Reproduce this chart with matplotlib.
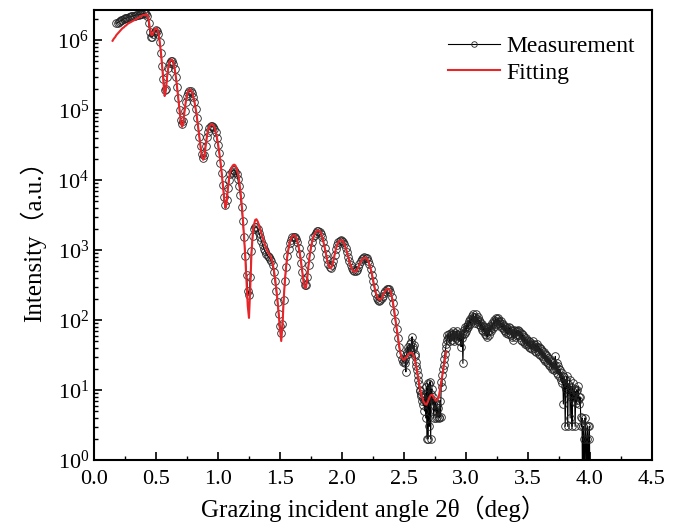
import numpy as np
import matplotlib.pyplot as plt

plt.rcParams['font.family'] = ['Liberation Serif', 'Noto Sans CJK SC']
plt.rcParams['mathtext.fontset'] = 'stix'

# measurement, log10 of intensity
# head: 2theta 0.18 .. 2.49, step 0.01
head_x0, head_dx = 0.18, 0.01
head_log = [
    6.24, 6.25, 6.26, 6.27, 6.28, 6.29, 6.30, 6.31, 6.31, 6.32,
    6.33, 6.33, 6.34, 6.34, 6.35, 6.35, 6.36, 6.36, 6.36, 6.37,
    6.37, 6.37, 6.38, 6.38, 6.37, 6.35, 6.25, 6.12, 6.05, 6.04,
    6.08, 6.12, 6.14, 6.13, 6.08, 5.97, 5.82, 5.63, 5.44, 5.28,
    5.30, 5.47, 5.60, 5.67, 5.70, 5.70, 5.66, 5.58, 5.47, 5.33,
    5.17, 5.00, 4.86, 4.80, 4.84, 4.98, 5.11, 5.20, 5.25, 5.27,
    5.27, 5.24, 5.19, 5.11, 5.01, 4.89, 4.76, 4.62, 4.48, 4.37,
    4.32, 4.36, 4.49, 4.61, 4.69, 4.74, 4.77, 4.77, 4.76, 4.73,
    4.68, 4.60, 4.50, 4.39, 4.25, 4.10, 3.93, 3.76, 3.65, 3.72,
    3.88, 4.00, 4.08, 4.12, 4.14, 4.14, 4.12, 4.08, 4.01, 3.92,
    3.79, 3.62, 3.42, 3.18, 2.92, 2.65, 2.42, 2.36, 2.62, 2.98,
    3.20, 3.30, 3.33, 3.33, 3.30, 3.25, 3.19, 3.13, 3.07, 3.02,
    2.98, 2.95, 2.92, 2.90, 2.87, 2.84, 2.78, 2.68, 2.56, 2.42,
    2.26, 2.08, 1.92, 1.82, 1.95, 2.28, 2.56, 2.76, 2.91, 3.02,
    3.10, 3.15, 3.18, 3.19, 3.19, 3.16, 3.11, 3.03, 2.94, 2.82,
    2.69, 2.57, 2.50, 2.50, 2.62, 2.78, 2.92, 3.03, 3.12, 3.18,
    3.22, 3.25, 3.27, 3.27, 3.26, 3.23, 3.18, 3.11, 3.03, 2.95,
    2.87, 2.80, 2.76, 2.75, 2.78, 2.85, 2.93, 3.01, 3.07, 3.11,
    3.13, 3.14, 3.13, 3.11, 3.08, 3.03, 2.97, 2.90, 2.84, 2.79,
    2.74, 2.71, 2.70, 2.70, 2.72, 2.76, 2.80, 2.84, 2.87, 2.89,
    2.90, 2.89, 2.88, 2.85, 2.80, 2.73, 2.65, 2.56, 2.47, 2.38,
    2.32, 2.28, 2.27, 2.28, 2.31, 2.35, 2.39, 2.42, 2.44, 2.45,
    2.44, 2.40, 2.33, 2.24, 2.12, 1.99, 1.87, 1.75, 1.62, 1.52,
    1.45, 1.40,
]
# tail: 2theta 2.500 .. 4.000, step 0.005 (noisy part)
tail_x0, tail_dx = 2.50, 0.005
tail_log = [
    1.42, 1.45, 1.38, 1.26, 1.50, 1.55, 1.62, 1.52, 1.58, 1.66,
    1.60, 1.56, 1.68, 1.76, 1.62, 1.58, 1.64, 1.52, 1.48, 1.40,
    1.34, 1.28, 1.22, 1.14, 1.08, 0.98, 1.00, 0.92, 0.95, 0.85,
    0.88, 0.78, 0.86, 0.70, 0.95, 0.60, 1.04, 0.30, 1.10, 0.30,
    1.08, 0.48, 1.12, 0.30, 0.95, 1.02, 0.80, 0.90, 0.60, 0.85,
    0.70, 0.82, 0.60, 0.78, 0.62, 0.75, 0.62, 0.60, 0.85, 0.62,
    1.12, 1.05, 1.22, 1.30, 1.36, 1.45, 1.52, 1.60, 1.66, 1.72,
    1.78, 1.74, 1.80, 1.76, 1.70, 1.82, 1.78, 1.72, 1.80, 1.85,
    1.76, 1.70, 1.82, 1.78, 1.74, 1.84, 1.80, 1.72, 1.78, 1.70,
    1.82, 1.76, 1.62, 1.80, 1.74, 1.38, 1.80, 1.86, 1.82, 1.90,
    1.84, 1.92, 1.88, 1.95, 1.90, 1.98, 2.02, 1.94, 2.00, 2.06,
    1.98, 2.04, 2.09, 2.00, 2.05, 1.96, 2.08, 2.02, 1.98, 2.04,
    1.95, 2.00, 1.93, 1.97, 1.90, 1.94, 1.86, 1.92, 1.84, 1.90,
    1.80, 1.86, 1.78, 1.88, 1.76, 1.84, 1.90, 1.78, 1.86, 1.92,
    1.84, 1.90, 1.96, 1.88, 1.94, 2.00, 1.92, 1.98, 2.03, 1.95,
    2.01, 1.96, 2.03, 1.97, 1.99, 1.93, 1.98, 1.90, 1.95, 1.88,
    1.94, 1.86, 1.92, 1.84, 1.90, 1.82, 1.88, 1.80, 1.86, 1.90,
    1.82, 1.88, 1.79, 1.86, 1.76, 1.84, 1.72, 1.82, 1.86, 1.76,
    1.84, 1.78, 1.85, 1.80, 1.86, 1.78, 1.84, 1.76, 1.82, 1.72,
    1.80, 1.70, 1.78, 1.68, 1.76, 1.66, 1.74, 1.70, 1.64, 1.72,
    1.66, 1.70, 1.62, 1.68, 1.60, 1.66, 1.58, 1.64, 1.70, 1.60,
    1.66, 1.56, 1.64, 1.54, 1.62, 1.66, 1.56, 1.62, 1.52, 1.60,
    1.50, 1.58, 1.48, 1.56, 1.46, 1.54, 1.44, 1.52, 1.42, 1.50,
    1.40, 1.48, 1.38, 1.46, 1.36, 1.44, 1.34, 1.42, 1.30, 1.40,
    1.32, 1.38, 1.28, 1.36, 1.48, 1.30, 1.38, 1.24, 1.34, 1.22,
    1.30, 1.18, 1.28, 1.14, 1.24, 1.10, 1.20, 0.80, 1.18, 1.06,
    0.48, 1.15, 1.02, 1.20, 0.48, 1.08, 0.95, 1.14, 0.60, 1.05,
    0.90, 0.48, 1.10, 0.95, 0.85, 1.02, 0.48, 0.98, 0.82, 1.00,
    0.86, 1.06, 0.90, 0.80, 0.90, 0.62, 0.48, 0.60, -0.5, 0.48,
    0.30, -0.5, 0.60, 0.48, -0.5, 0.30, 0.48, -0.5, 0.30, 0.48,
    -0.5,
]

# fitting curve, 2theta 0.15 .. 2.84, step 0.01, log10 of intensity
fit_x0, fit_dx = 0.15, 0.01
fit_log = [
    5.99, 6.02, 6.04, 6.07, 6.09, 6.11, 6.13, 6.15, 6.17, 6.18,
    6.20, 6.21, 6.23, 6.24, 6.25, 6.26, 6.27, 6.28, 6.29, 6.30,
    6.31, 6.32, 6.33, 6.34, 6.35, 6.36, 6.36, 6.37, 6.36, 6.30,
    6.18, 6.08, 6.07, 6.11, 6.15, 6.17, 6.16, 6.10, 5.98, 5.82,
    5.62, 5.40, 5.20, 5.28, 5.48, 5.62, 5.69, 5.72, 5.72, 5.68,
    5.60, 5.48, 5.33, 5.16, 4.98, 4.83, 4.76, 4.80, 4.98, 5.12,
    5.22, 5.27, 5.29, 5.29, 5.26, 5.20, 5.12, 5.02, 4.90, 4.76,
    4.61, 4.46, 4.34, 4.29, 4.32, 4.48, 4.62, 4.71, 4.76, 4.79,
    4.80, 4.79, 4.76, 4.70, 4.62, 4.52, 4.40, 4.26, 4.10, 3.92,
    3.73, 3.60, 3.68, 3.88, 4.03, 4.13, 4.18, 4.21, 4.22, 4.21,
    4.17, 4.10, 4.00, 3.86, 3.68, 3.46, 3.20, 2.90, 2.55, 2.20,
    2.03, 2.45, 2.95, 3.22, 3.36, 3.43, 3.44, 3.41, 3.36, 3.30,
    3.24, 3.18, 3.12, 3.07, 3.02, 2.98, 2.95, 2.92, 2.88, 2.82,
    2.72, 2.60, 2.45, 2.28, 2.08, 1.86, 1.70, 1.92, 2.30, 2.58,
    2.78, 2.93, 3.04, 3.12, 3.17, 3.20, 3.21, 3.21, 3.18, 3.13,
    3.05, 2.95, 2.83, 2.68, 2.54, 2.46, 2.46, 2.60, 2.78, 2.93,
    3.04, 3.13, 3.19, 3.23, 3.26, 3.28, 3.28, 3.27, 3.24, 3.19,
    3.12, 3.04, 2.95, 2.86, 2.79, 2.75, 2.74, 2.77, 2.84, 2.93,
    3.01, 3.07, 3.11, 3.13, 3.14, 3.14, 3.12, 3.08, 3.03, 2.97,
    2.90, 2.84, 2.78, 2.73, 2.70, 2.69, 2.69, 2.71, 2.75, 2.79,
    2.83, 2.86, 2.88, 2.89, 2.89, 2.88, 2.85, 2.80, 2.74, 2.67,
    2.58, 2.49, 2.41, 2.35, 2.31, 2.29, 2.29, 2.31, 2.35, 2.39,
    2.42, 2.44, 2.45, 2.44, 2.41, 2.35, 2.26, 2.15, 2.02, 1.89,
    1.76, 1.64, 1.54, 1.47, 1.44, 1.43, 1.45, 1.47, 1.50, 1.52,
    1.53, 1.53, 1.52, 1.48, 1.41, 1.32, 1.22, 1.11, 1.01, 0.93,
    0.87, 0.83, 0.80, 0.79, 0.82, 0.87, 0.91, 0.93, 0.93, 0.89,
    0.86, 0.85, 0.86, 0.90, 1.00, 1.11, 1.22, 1.33, 1.44, 1.55,
]

meas_x = np.concatenate([head_x0 + head_dx * np.arange(len(head_log)),
                         tail_x0 + tail_dx * np.arange(len(tail_log))])
meas_y = 10.0 ** np.array(head_log + tail_log)
fit_x = fit_x0 + fit_dx * np.arange(len(fit_log))
fit_y = 10.0 ** np.array(fit_log)

fig = plt.figure(figsize=(6.78, 5.28), dpi=100)
ax = fig.add_axes([0.1386, 0.1288, 0.8231, 0.8523])

ax.plot(meas_x, meas_y, color='black', lw=0.8, marker='o', ms=5.5,
        mfc='none', mec='#222222', mew=0.6, label='Measurement')
ax.plot(fit_x, fit_y, color='#e8262a', lw=1.5, label='Fitting')

ax.set_yscale('log')
ax.set_xlim(0, 4.5)
ax.set_ylim(1, 10 ** 6.43)
ax.set_xticks(np.arange(0, 4.51, 0.5))
ax.set_xticks(np.arange(0.25, 4.5, 0.5), minor=True)
ax.tick_params(which='both', direction='in', labelsize=16, top=False, right=False)
ax.tick_params(which='major', length=6, width=1.2)
ax.tick_params(which='minor', length=3, width=1.0)
ax.tick_params(axis='x', pad=7)
for s in ax.spines.values():
    s.set_linewidth(1.5)

ax.set_xlabel('Grazing incident angle 2θ（deg）', fontsize=18, labelpad=5)
ax.set_ylabel('Intensity（a.u.）', fontsize=18, labelpad=8)

leg = ax.legend(loc='upper right', fontsize=17, frameon=False, numpoints=1,
                handlelength=2.2, handletextpad=0.3,
                bbox_to_anchor=(1.008, 0.99), labelspacing=0.2)
for h in leg.legend_handles:
    if h.get_marker() == 'o':
        h.set_markersize(4)

fig.savefig('out.png', dpi=100)
